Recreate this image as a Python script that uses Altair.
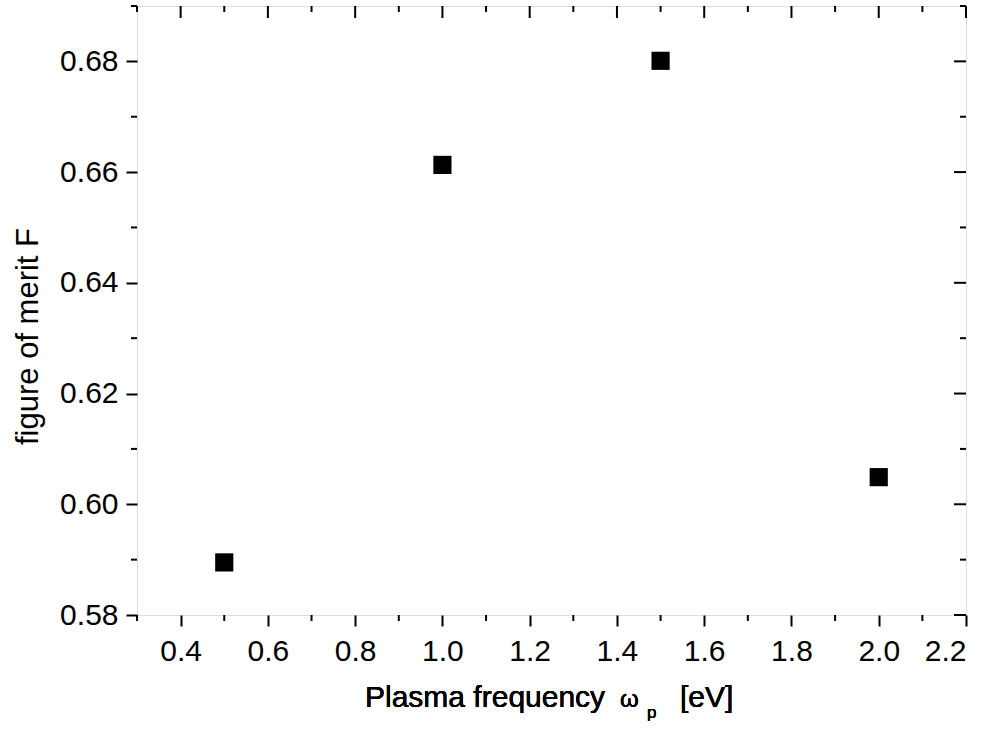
import altair as alt
import pandas as pd

# data
omega_p = [0.5, 1.0, 1.5, 2.0]
merit_F = [0.5895, 0.6613, 0.6801, 0.6049]

x_major = [0.4, 0.6, 0.8, 1.0, 1.2, 1.4, 1.6, 1.8, 2.0, 2.2]
x_minor = [0.3, 0.5, 0.7, 0.9, 1.1, 1.3, 1.5, 1.7, 1.9, 2.1]
y_major = [0.58, 0.60, 0.62, 0.64, 0.66, 0.68]
y_minor = [0.59, 0.61, 0.63, 0.65, 0.67, 0.69]

W, H = 829, 609
FONT = "Liberation Sans"

xs = alt.Scale(domain=[0.3, 2.2], nice=False, zero=False)
ys = alt.Scale(domain=[0.58, 0.69], nice=False, zero=False)

pts = pd.DataFrame({"x": omega_p, "y": merit_F})
xmaj = pd.DataFrame({"x": x_major})
xmin = pd.DataFrame({"x": x_minor})
ymaj = pd.DataFrame({"y": y_major})
ymin = pd.DataFrame({"y": y_minor})

points = alt.Chart(pts).mark_square(size=330, color="black", opacity=1).encode(
    x=alt.X("x:Q", scale=xs, axis=alt.Axis(
        values=x_major, format=".1f", title=None, domain=False,
        tickSize=11, tickWidth=2, tickColor="black",
        labelFontSize=30, labelFont=FONT, labelColor="black", labelPadding=10,
        grid=False)),
    y=alt.Y("y:Q", scale=ys, axis=alt.Axis(
        values=y_major, format=".2f", title="figure of merit F", domain=False,
        tickSize=11, tickWidth=2, tickColor="black",
        labelFontSize=30, labelFont=FONT, labelColor="black", labelPadding=8,
        titleFontSize=31, titleFont=FONT, titleFontWeight="normal", titleColor="black",
        titleX=-109, titleY=330, titleBaseline="middle", titleAngle=270,
        grid=False)),
)

rule_kw = dict(color="black", strokeWidth=2)
# bottom minor ticks (outward)
b_minor = alt.Chart(xmin).mark_rule(**rule_kw).encode(
    x=alt.X("x:Q", scale=xs), y=alt.value(H), y2=alt.value(H + 6))
# top ticks (inward)
t_major = alt.Chart(xmaj).mark_rule(**rule_kw).encode(
    x=alt.X("x:Q", scale=xs), y=alt.value(0), y2=alt.value(12))
t_minor = alt.Chart(xmin).mark_rule(**rule_kw).encode(
    x=alt.X("x:Q", scale=xs), y=alt.value(0), y2=alt.value(6))
# left minor ticks (outward)
l_minor = alt.Chart(ymin).mark_rule(**rule_kw).encode(
    y=alt.Y("y:Q", scale=ys), x=alt.value(0), x2=alt.value(-6))
# right ticks (inward)
r_major = alt.Chart(ymaj).mark_rule(**rule_kw).encode(
    y=alt.Y("y:Q", scale=ys), x=alt.value(W), x2=alt.value(W - 12))
r_minor = alt.Chart(ymin).mark_rule(**rule_kw).encode(
    y=alt.Y("y:Q", scale=ys), x=alt.value(W), x2=alt.value(W - 6))

# x-axis title with subscript
tx_kw = dict(font=FONT, color="black", align="left", baseline="alphabetic")
t1 = alt.Chart(pts).mark_text(text="Plasma frequency", fontSize=30, **tx_kw).encode(
    x=alt.value(228), y=alt.value(701))
t2 = alt.Chart(pts).mark_text(text="ω", fontSize=24, **tx_kw).encode(
    x=alt.value(483), y=alt.value(701))
t3 = alt.Chart(pts).mark_text(text="p", fontSize=17, **tx_kw).encode(
    x=alt.value(510), y=alt.value(712))
t4 = alt.Chart(pts).mark_text(text="[eV]", fontSize=30, **tx_kw).encode(
    x=alt.value(543), y=alt.value(701))

chart = alt.layer(points, b_minor, t_major, t_minor, l_minor, r_major, r_minor,
                  t1, t2, t3, t4).properties(
    width=W, height=H,
    autosize=alt.AutoSizeParams(type="none"),
    padding={"left": 137, "top": 6, "right": 30, "bottom": 116},
).configure_view(stroke="black", strokeWidth=2).configure(background="white")

chart.save("out.html", embed_options={"renderer": "svg", "actions": False})
